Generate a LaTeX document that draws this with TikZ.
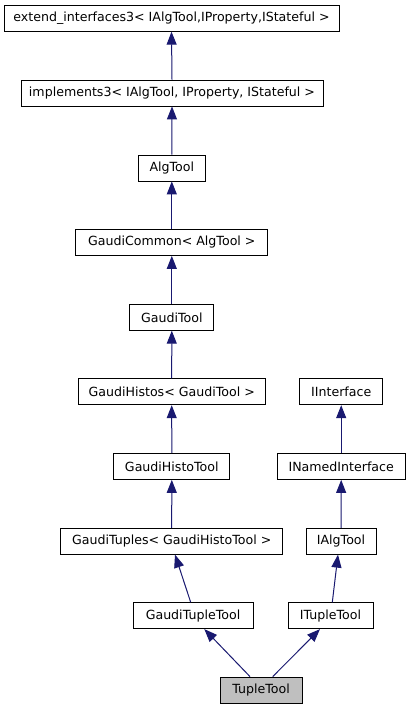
\documentclass[tikz,border=0pt]{standalone}
\usepackage{fontspec}
\setmainfont{DejaVu Sans}
\usetikzlibrary{arrows.meta}
\definecolor{edgeblue}{HTML}{191970}
\definecolor{boxline}{HTML}{000000}
\definecolor{curfill}{HTML}{BFBFBF}
\tikzset{
  cls/.style={draw=boxline, line width=0.8pt, fill=white, inner sep=0pt,
    minimum height=26pt, font=\fontsize{12.6}{15}\selectfont, anchor=center},
  cur/.style={cls, fill=curfill},
  inh/.style={draw=edgeblue, line width=1pt,
    -{Triangle[length=13pt,width=10pt]}, color=edgeblue},
}
\begin{document}
\begin{tikzpicture}[x=1pt,y=-1pt]
\useasboundingbox[fill=white] (0,0) rectangle (411,709);
\node[cls, minimum width=335pt] (ext) at (171.5,18.3) {extend\_interfaces3< IAlgTool,IProperty,IStateful >};
\node[cls, minimum width=302pt] (impl) at (172,93) {implements3< IAlgTool, IProperty, IStateful >};
\node[cls, minimum width=67pt] (alg) at (171.8,168) {AlgTool};
\node[cls, minimum width=192pt] (gc) at (171.8,242.5) {GaudiCommon< AlgTool >};
\node[cls, minimum width=84pt] (gt) at (171.8,317.3) {GaudiTool};
\node[cls, minimum width=187pt] (gh) at (171.7,391.8) {GaudiHistos< GaudiTool >};
\node[cls, minimum width=116pt] (ght) at (171.8,466.5) {GaudiHistoTool};
\node[cls, minimum width=222pt] (gtu) at (171.7,541.2) {GaudiTuples< GaudiHistoTool >};
\node[cls, minimum width=120pt] (gtt) at (193,615.7) {GaudiTupleTool};
\node[cur, minimum width=82pt] (tt) at (261,690) {TupleTool};
\node[cls, minimum width=83pt] (ii) at (341.2,391.8) {IInterface};
\node[cls, minimum width=128pt] (ini) at (341.2,466.5) {INamedInterface};
\node[cls, minimum width=70pt] (iat) at (341,541.2) {IAlgTool};
\node[cls, minimum width=85pt] (itt) at (330.5,615.7) {ITupleTool};

\draw[inh] (impl.north) -- (ext.south);
\draw[inh] (alg.north) -- (impl.south);
\draw[inh] (gc.north) -- (alg.south);
\draw[inh] (gt.north) -- (gc.south);
\draw[inh] (gh.north) -- (gt.south);
\draw[inh] (ght.north) -- (gh.south);
\draw[inh] (gtu.north) -- (ght.south);
\draw[inh] (ini.north) -- (ii.south);
\draw[inh] (iat.north) -- (ini.south);
\draw[inh] ([xshift=-2.3pt]gtt.north) -- ([xshift=3.3pt]gtu.south);
\draw[inh] ([xshift=1.8pt]itt.north) -- ([xshift=-3pt]iat.south);
\draw[inh] ([xshift=-11pt]tt.north) -- ([xshift=11.3pt]gtt.south);
\draw[inh] ([xshift=11.7pt]tt.north) -- ([xshift=-10.5pt]itt.south);
\end{tikzpicture}
\end{document}
